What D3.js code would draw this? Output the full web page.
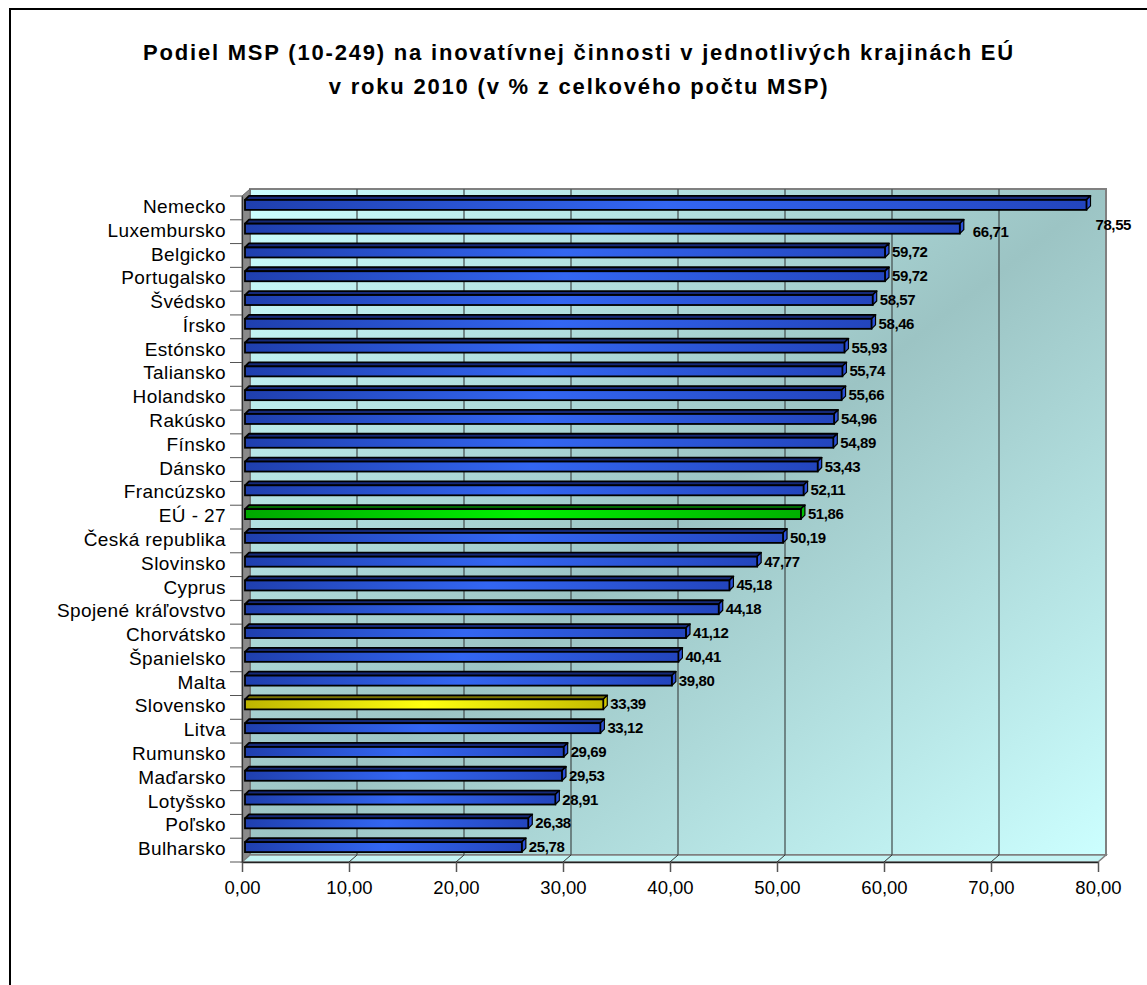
<!DOCTYPE html>
<html>
<head>
<meta charset="utf-8">
<script src="https://cdn.jsdelivr.net/npm/d3@7"></script>
<style>
  html, body { margin: 0; padding: 0; background: #fff; }
  svg { display: block; font-family: "Liberation Sans", Arial, sans-serif; }
</style>
</head>
<body>
<svg id="chart" width="1147" height="985"></svg>
<script>
// data
const countries = ["Nemecko", "Luxembursko", "Belgicko", "Portugalsko", "Švédsko", "Írsko",
  "Estónsko", "Taliansko", "Holandsko", "Rakúsko", "Fínsko", "Dánsko", "Francúzsko",
  "EÚ - 27", "Česká republika", "Slovinsko", "Cyprus", "Spojené kráľovstvo", "Chorvátsko",
  "Španielsko", "Malta", "Slovensko", "Litva", "Rumunsko", "Maďarsko", "Lotyšsko",
  "Poľsko", "Bulharsko"];
const shares = [78.55, 66.71, 59.72, 59.72, 58.57, 58.46, 55.93, 55.74, 55.66, 54.96, 54.89,
  53.43, 52.11, 51.86, 50.19, 47.77, 45.18, 44.18, 41.12, 40.41, 39.80, 33.39, 33.12,
  29.69, 29.53, 28.91, 26.38, 25.78];
const xTicks = [0, 10, 20, 30, 40, 50, 60, 70, 80];
const titleLines = ["Podiel MSP (10-249) na inovatívnej činnosti v jednotlivých krajinách EÚ",
  "v roku 2010 (v % z celkového počtu MSP)"];

const data = countries.map((c, i) => ({ name: c, value: shares[i] }));
const fmt = v => d3.format(".2f")(v).replace(".", ",");

const svg = d3.select("#chart");

// outer frame
svg.append("rect")
  .attr("x", 10).attr("y", 9).attr("width", 1160).attr("height", 1000)
  .attr("fill", "none").attr("stroke", "#000").attr("stroke-width", 2);

// title
svg.append("g").selectAll("text")
  .data(titleLines).enter().append("text")
  .attr("x", 579).attr("y", (d, i) => 60 + i * 34)
  .attr("text-anchor", "middle")
  .style("font-size", "22px").style("font-weight", "bold")
  .style("letter-spacing", "1.8px")
  .text(d => d);

// 3D geometry
const dx = 8, dy = -7;            // depth offset of the back wall
const front = { left: 242, right: 1098, top: 196, bottom: 862 };
const x = d3.scaleLinear().domain([0, 80]).range([front.left, front.right]);
const y = d3.scaleBand().domain(countries).range([front.top, front.bottom]);

const defs = svg.append("defs");
const wallGrad = defs.append("linearGradient").attr("id", "wall")
  .attr("x1", 0).attr("y1", 0).attr("x2", 1).attr("y2", 1);
wallGrad.append("stop").attr("offset", 0).attr("stop-color", "#ccffff");
wallGrad.append("stop").attr("offset", 0.5).attr("stop-color", "#9cc4c4");
wallGrad.append("stop").attr("offset", 1).attr("stop-color", "#ccffff");

const barColors = {
  blue: ["#1f3fae", "#3366f2", "#2345bd", "#162a78", "#2a50d8"],
  green: ["#00a800", "#00f000", "#00b000", "#006a00", "#00c000"],
  yellow: ["#bdb400", "#ffff10", "#c4bc00", "#7a7400", "#d0c800"]
};
Object.entries(barColors).forEach(([k, c]) => {
  const g = defs.append("linearGradient").attr("id", "bar-" + k)
    .attr("x1", 0).attr("y1", 0).attr("x2", 1).attr("y2", 0);
  g.append("stop").attr("offset", 0).attr("stop-color", c[0]);
  g.append("stop").attr("offset", 0.5).attr("stop-color", c[1]);
  g.append("stop").attr("offset", 1).attr("stop-color", c[2]);
});
const kindOf = name => name === "EÚ - 27" ? "green" : name === "Slovensko" ? "yellow" : "blue";

const plot = svg.append("g");

// back wall
plot.append("rect")
  .attr("x", x(0) + dx).attr("y", front.top + dy)
  .attr("width", x(80) - x(0)).attr("height", front.bottom - front.top)
  .attr("fill", "url(#wall)").attr("stroke", "#808080").attr("stroke-width", 2);

// side wall
plot.append("path")
  .attr("d", `M${x(0)},${front.top}L${x(0) + dx},${front.top + dy}L${x(0) + dx},${front.bottom + dy}L${x(0)},${front.bottom}Z`)
  .attr("fill", "#8a8a8a").attr("stroke", "#666").attr("stroke-width", 1);

// floor
plot.append("path")
  .attr("d", `M${x(0)},${front.bottom}L${x(0) + dx},${front.bottom + dy}L${x(80) + dx},${front.bottom + dy}L${x(80)},${front.bottom}Z`)
  .attr("fill", "#c4f4f4").attr("stroke", "#808080").attr("stroke-width", 1.5);

// grid lines on the back wall and floor
plot.append("g").selectAll("line")
  .data(xTicks.slice(1, -1)).enter().append("line")
  .attr("x1", d => x(d) + dx).attr("x2", d => x(d) + dx)
  .attr("y1", front.top + dy).attr("y2", front.bottom + dy)
  .attr("stroke", "#4a5555").attr("stroke-width", 1.3);
plot.append("g").selectAll("line")
  .data(xTicks.slice(1, -1)).enter().append("line")
  .attr("x1", d => x(d)).attr("x2", d => x(d) + dx)
  .attr("y1", front.bottom).attr("y2", front.bottom + dy)
  .attr("stroke", "#333").attr("stroke-width", 1);

// x axis (front edge of the floor)
const xAxis = plot.append("g")
  .attr("transform", `translate(0,${front.bottom})`)
  .call(d3.axisBottom(x).tickValues(xTicks).tickFormat(fmt).tickSize(10).tickSizeOuter(0));
xAxis.select(".domain").attr("stroke", "#222").attr("stroke-width", 1.5);
xAxis.selectAll(".tick line").attr("stroke", "#555").attr("stroke-width", 1.5);
xAxis.selectAll(".tick text")
  .attr("dy", "1.0em")
  .style("font-size", "18.5px").style("font-family", "Liberation Sans, Arial, sans-serif")
  .attr("fill", "#000");

// y axis with category names
const yAxis = plot.append("g")
  .attr("transform", `translate(${front.left},0)`)
  .call(d3.axisLeft(y).tickSize(0).tickPadding(16));
yAxis.select(".domain").attr("stroke", "#333").attr("stroke-width", 1.2);
yAxis.selectAll(".tick text")
  .attr("y", -1)
  .style("font-size", "19px").style("letter-spacing", "0.4px")
  .style("font-family", "Liberation Sans, Arial, sans-serif")
  .attr("fill", "#000");
// tick marks between categories
plot.append("g").selectAll("line")
  .data(d3.range(countries.length + 1)).enter().append("line")
  .attr("x1", front.left - 12).attr("x2", front.left)
  .attr("y1", i => front.top + i * y.step()).attr("y2", i => front.top + i * y.step())
  .attr("stroke", "#555").attr("stroke-width", 1);

// 3D bars
const bd = 4;          // bar depth
const bh = 10;         // front face height
const bx = d => x(0) + 3;
const be = d => x(d.value) + 4;
const bc = d => y(d.name) + y.bandwidth() / 2 - 3;

const bars = plot.append("g").selectAll("g.bar")
  .data(data).enter().append("g").attr("class", "bar");

// top face
bars.append("path")
  .attr("d", d => {
    const t = bc(d) - bh / 2;
    return `M${bx(d)},${t}L${bx(d) + bd},${t - bd}L${be(d) + bd},${t - bd}L${be(d)},${t}Z`;
  })
  .attr("fill", d => barColors[kindOf(d.name)][3])
  .attr("stroke", "#000").attr("stroke-width", 1.8).attr("stroke-linejoin", "round");
// end face
bars.append("path")
  .attr("d", d => {
    const t = bc(d) - bh / 2;
    return `M${be(d)},${t}L${be(d) + bd},${t - bd}L${be(d) + bd},${t + bh - bd}L${be(d)},${t + bh}Z`;
  })
  .attr("fill", d => barColors[kindOf(d.name)][4])
  .attr("stroke", "#000").attr("stroke-width", 1.2).attr("stroke-linejoin", "round");
// front face
bars.append("rect")
  .attr("x", bx).attr("y", d => bc(d) - bh / 2)
  .attr("width", d => be(d) - bx(d)).attr("height", bh)
  .attr("fill", d => `url(#bar-${kindOf(d.name)})`)
  .attr("stroke", "#000").attr("stroke-width", 1.8);

// value labels (two top labels sit lower, as in the original)
const nudge = { "Nemecko": [2, 20], "Luxembursko": [6, 3] };
plot.append("g").selectAll("text")
  .data(data).enter().append("text")
  .attr("x", d => be(d) + bd + 3 + (nudge[d.name] ? nudge[d.name][0] : 0))
  .attr("y", d => bc(d) + 5 + (nudge[d.name] ? nudge[d.name][1] : 0))
  .style("font-size", "15px").style("font-weight", "bold")
  .style("letter-spacing", "-0.4px")
  .attr("fill", "#000")
  .text(d => fmt(d.value));
</script>
</body>
</html>
